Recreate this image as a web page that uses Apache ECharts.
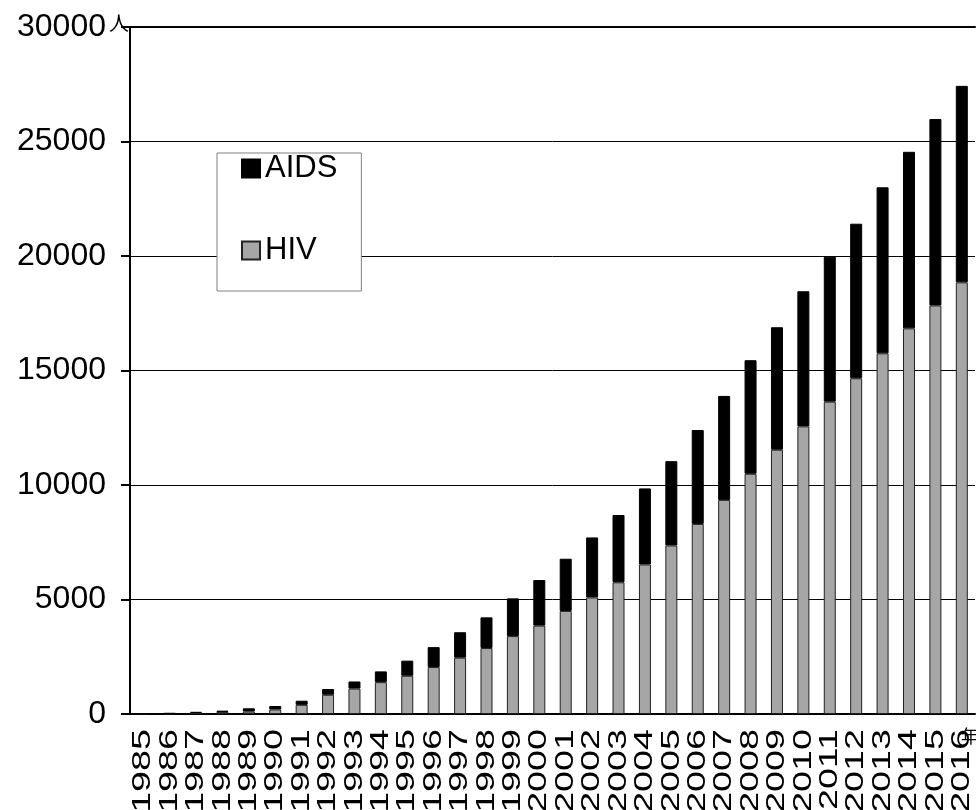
<!DOCTYPE html>
<html lang="ja">
<head>
  <meta charset="utf-8">
  <title>HIV・AIDS 累積報告数</title>
  <script src="https://cdn.jsdelivr.net/npm/echarts@6/dist/echarts.min.js"></script>
  <style>
    html, body { margin: 0; padding: 0; background: #fff; }
    #main { width: 976px; height: 810px; }
  </style>
</head>
<body>
  <div id="main"></div>
  <script type="text/javascript">
// 年
var years = ['1985','1986','1987','1988','1989','1990','1991','1992','1993','1994','1995',
  '1996','1997','1998','1999','2000','2001','2002','2003','2004','2005','2006',
  '2007','2008','2009','2010','2011','2012','2013','2014','2015','2016'];
// HIV (累積)
var hiv = [5, 20, 50, 90, 110, 200, 400, 840, 1110, 1390, 1670,
  2050, 2460, 2880, 3400, 3860, 4500, 5090, 5750, 6530, 7360, 8300,
  9350, 10490, 11540, 12560, 13640, 14660, 15750, 16840, 17840, 18850];
// AIDS (累積)
var aids = [6, 14, 40, 55, 140, 150, 180, 250, 310, 470, 660,
  870, 1110, 1340, 1650, 1990, 2280, 2620, 2940, 3320, 3680, 4100,
  4540, 4960, 5350, 5900, 6330, 6750, 7250, 7710, 8140, 8580];
var yTicks = [0, 5000, 10000, 15000, 20000, 25000, 30000];

var font = 'Liberation Sans, Arial, sans-serif';
var myChart = echarts.init(document.getElementById('main'));

var option = {
    animation: false,
    backgroundColor: '#fff',
    grid: { left: 130, right: 1, top: 27, bottom: 96 },
    legend: {
        orient: 'vertical',
        left: 217,
        top: 153,
        data: ['AIDS', 'HIV'],
        icon: 'rect',
        itemWidth: 18,
        itemHeight: 18,
        itemGap: 51,
        padding: [0, 24, 25, 24],
        backgroundColor: '#fff',
        borderColor: '#808080',
        borderWidth: 1,
        textStyle: { fontSize: 31, color: '#000', fontFamily: font }
    },
    xAxis: [
        {
            type: 'category',
            data: years,
            axisLine: { lineStyle: { color: '#000', width: 2 } },
            axisTick: { length: 9, lineStyle: { color: '#000', width: 2 } },
            axisLabel: { show: false }
        },
        {
            type: 'category',
            position: 'top',
            data: years,
            axisLine: { show: true, lineStyle: { color: '#000', width: 2 } },
            axisTick: { show: false },
            axisLabel: { show: false }
        }
    ],
    yAxis: {
        type: 'value',
        min: yTicks[0],
        max: yTicks[yTicks.length - 1],
        interval: 5000,
        axisLine: { show: true, lineStyle: { color: '#000', width: 2 } },
        axisTick: { show: true, length: 9, lineStyle: { color: '#000', width: 2 } },
        axisLabel: {
            margin: 24, fontSize: 32, color: '#000', fontFamily: font,
            formatter: function (v) { return String(v); }
        },
        splitLine: { lineStyle: { color: '#000', width: 1 } }
    },
    series: [
        {
            name: 'HIV',
            type: 'bar',
            stack: 'total',
            barWidth: 12,
            data: hiv,
            itemStyle: { color: '#a6a6a6', borderColor: '#222', borderWidth: 1 }
        },
        {
            name: 'AIDS',
            type: 'bar',
            stack: 'total',
            barWidth: 12,
            data: aids,
            itemStyle: { color: '#000', borderColor: '#000', borderWidth: 1 }
        }
    ]
};
myChart.setOption(option);

// 年ラベル: 横に引き伸ばした縦書き (元図に合わせる)、位置は軸から取得
var graphics = [
    { type: 'text', left: 109, top: 13, style: { text: '人', fontSize: 20, fill: '#000', fontFamily: 'Noto Sans CJK JP' } }
];
years.forEach(function (y) {
    var px = myChart.convertToPixel({ xAxisIndex: 0 }, y);
    graphics.push({
        type: 'text',
        x: px,
        y: 729,
        rotation: Math.PI / 2,
        scaleX: 1.45,
        style: { text: y, fontSize: 26, fontFamily: font, fill: '#000', align: 'right', verticalAlign: 'middle' }
    });
});
graphics.push({ type: 'text', left: 961, top: 727, style: { text: '年', fontSize: 18, fill: '#000', fontFamily: 'Noto Sans CJK JP' } });
myChart.setOption({ graphic: graphics });
  </script>
</body>
</html>
